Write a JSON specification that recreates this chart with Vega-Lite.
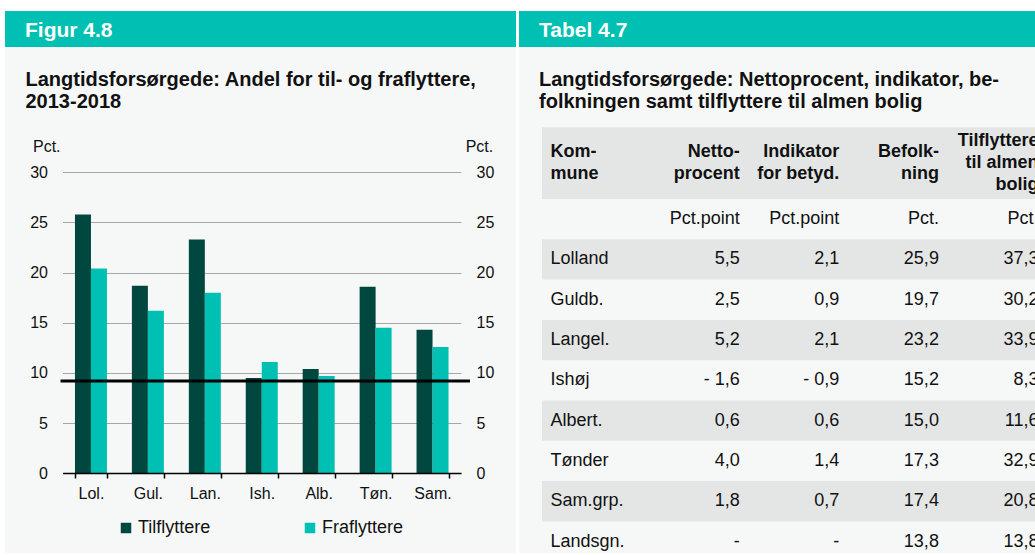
{
  "$schema": "https://vega.github.io/schema/vega-lite/v6.json",
  "background": "white",
  "padding": {"left": 5, "top": 11, "right": 0, "bottom": 2},
  "spacing": 3,
  "config": {
    "view": {"stroke": null},
    "font": "Liberation Sans",
    "locale": {"number": {"decimal": ",", "thousands": ".", "grouping": [3], "currency": ["", " kr."], "minus": "- "}}
  },
  "hconcat": [
    {
      "spacing": 0,
      "resolve": {"legend": {"color": "independent"}},
      "vconcat": [
        {
          "width": 511,
          "height": 36,
          "view": {"fill": "#00bfb3", "stroke": null},
          "data": {"values": [{"label": "Figur 4.8"}]},
          "mark": {"type": "point", "opacity": 0},
          "encoding": {
            "x": {"field": "label", "type": "nominal", "axis": {"orient": "top", "labels": false, "ticks": false, "domain": false, "grid": false, "title": "Figur 4.8", "titleX": 19.5, "titleY": 25, "titleAlign": "left", "titleAnchor": "start", "titleBaseline": "alphabetic", "titleFontSize": 21, "titleFontWeight": "bold", "titleColor": "white", "titleFont": "Liberation Sans"}}
          }
        },
        {
          "width": 511,
          "height": 506,
          "view": {"fill": "#f6f8f8", "stroke": null},
          "resolve": {"scale": {"x": "independent"}, "axis": {"y": "independent"}},
          "layer": [
            {
              "data": {"values": [
                {"kommune": "Lol.", "type": "Tilflyttere", "value": 25.8},
                {"kommune": "Lol.", "type": "Fraflyttere", "value": 20.4},
                {"kommune": "Gul.", "type": "Tilflyttere", "value": 18.7},
                {"kommune": "Gul.", "type": "Fraflyttere", "value": 16.2},
                {"kommune": "Lan.", "type": "Tilflyttere", "value": 23.3},
                {"kommune": "Lan.", "type": "Fraflyttere", "value": 18.0},
                {"kommune": "Ish.", "type": "Tilflyttere", "value": 9.5},
                {"kommune": "Ish.", "type": "Fraflyttere", "value": 11.1},
                {"kommune": "Alb.", "type": "Tilflyttere", "value": 10.4},
                {"kommune": "Alb.", "type": "Fraflyttere", "value": 9.7},
                {"kommune": "Tøn.", "type": "Tilflyttere", "value": 18.6},
                {"kommune": "Tøn.", "type": "Fraflyttere", "value": 14.5},
                {"kommune": "Sam.", "type": "Tilflyttere", "value": 14.3},
                {"kommune": "Sam.", "type": "Fraflyttere", "value": 12.6}
              ]},
              "mark": {"type": "bar"},
              "encoding": {
                "x": {
                  "field": "kommune", "type": "nominal",
                  "scale": {"domain": ["Lol.", "Gul.", "Lan.", "Ish.", "Alb.", "Tøn.", "Sam."], "range": [57.5, 456], "paddingInner": 0.438, "paddingOuter": 0.219},
                  "axis": {"orient": "bottom", "offset": -80, "labelAngle": 0, "domainColor": "black", "domainWidth": 1.5, "tickColor": "black", "tickWidth": 1.5, "tickSize": 5, "tickBand": "extent", "labelFontSize": 16, "labelPadding": 7, "labelColor": "#111111", "labelFont": "Liberation Sans", "grid": false, "zindex": 1,
                    "title": ["Langtidsforsørgede: Andel for til- og fraflyttere,", "2013-2018"], "titleX": 20, "titleY": -404, "titleAlign": "left", "titleAnchor": "start", "titleBaseline": "top", "titleAngle": 0, "titleFontSize": 20, "titleFontWeight": "bold", "titleLineHeight": 22.5, "titleColor": "#111111", "titleFont": "Liberation Sans"}
                },
                "y": {
                  "field": "value", "type": "quantitative",
                  "scale": {"domain": [0, 30], "range": [426.3, 125.3], "nice": false, "zero": true},
                  "axis": {"orient": "left", "offset": -57.5, "values": [0, 5, 10, 15, 20, 25, 30], "grid": true, "gridColor": "#a6a6a6", "gridWidth": 1, "domain": false, "ticks": false, "tickSize": 0, "labelFontSize": 16, "labelColor": "#111111", "labelFont": "Liberation Sans", "labelPadding": 15, "title": "Pct.", "titleAngle": 0, "titleAlign": "left", "titleBaseline": "alphabetic", "titleX": -30, "titleY": 104, "titleFontSize": 16, "titleFontWeight": "normal", "titleColor": "#111111", "titleFont": "Liberation Sans"}
                },
                "xOffset": {"field": "type", "type": "nominal", "scale": {"domain": ["Tilflyttere", "Fraflyttere"], "paddingInner": 0, "paddingOuter": 0}},
                "color": {
                  "field": "type", "type": "nominal",
                  "scale": {"domain": ["Tilflyttere", "Fraflyttere"], "range": ["#00473f", "#00bfb3"]},
                  "legend": {"orient": "none", "legendX": 112, "legendY": 472, "direction": "horizontal", "title": null, "symbolType": "square", "symbolSize": 110, "symbolStrokeWidth": 0, "labelFontSize": 18, "labelColor": "#111111", "labelFont": "Liberation Sans", "labelOffset": 3, "columnPadding": 90, "padding": 0}
                }
              }
            },
            {
              "data": {"values": [{"niveau": 9.2}]},
              "mark": {"type": "rule", "color": "black", "strokeWidth": 3},
              "encoding": {
                "y": {
                  "field": "niveau", "type": "quantitative",
                  "axis": {"orient": "right", "offset": -55, "values": [0, 5, 10, 15, 20, 25, 30], "grid": false, "domain": false, "ticks": false, "tickSize": 0, "labelFontSize": 16, "labelColor": "#111111", "labelFont": "Liberation Sans", "labelPadding": 15, "title": "Pct.", "titleAngle": 0, "titleAlign": "right", "titleBaseline": "alphabetic", "titleX": 31.7, "titleY": 104, "titleFontSize": 16, "titleFontWeight": "normal", "titleColor": "#111111", "titleFont": "Liberation Sans"}
                },
                "x": {"datum": 0, "type": "quantitative", "scale": {"domain": [0, 1], "range": [55.5, 465]}, "axis": null},
                "x2": {"datum": 1}
              }
            }
          ]
        }
      ]
    },
    {
      "spacing": 0,
      "vconcat": [
        {
          "width": 516,
          "height": 36,
          "view": {"fill": "#00bfb3", "stroke": null},
          "data": {"values": [{"label": "Tabel 4.7"}]},
          "mark": {"type": "point", "opacity": 0},
          "encoding": {
            "x": {"field": "label", "type": "nominal", "axis": {"orient": "top", "labels": false, "ticks": false, "domain": false, "grid": false, "title": "Tabel 4.7", "titleX": 19.5, "titleY": 25, "titleAlign": "left", "titleAnchor": "start", "titleBaseline": "alphabetic", "titleFontSize": 21, "titleFontWeight": "bold", "titleColor": "white", "titleFont": "Liberation Sans"}}
          }
        },
        {
          "width": 516,
          "height": 506,
          "view": {"fill": "#f6f8f8", "stroke": null},
          "resolve": {"scale": {"y": "independent"}},
          "layer": [
            {
              "data": {"values": [
                {"col": "Kommune", "label": "Kom-\nmune"},
                {"col": "Nettoprocent", "label": "Netto-\nprocent"},
                {"col": "Indikator", "label": "Indikator\nfor betyd."},
                {"col": "Befolkning", "label": "Befolk-\nning"},
                {"col": "Tilflyttere", "label": "Tilflyttere\ntil almen\nbolig"}
              ]},
              "layer": [
                {
                  "transform": [{"filter": "datum.col === 'Kommune'"}],
                  "mark": {"type": "rect", "color": "#e4e6e6", "xOffset": -98.1, "clip": true},
                  "encoding": {
                    "x": {"datum": "Kommune", "type": "nominal", "scale": {"type": "point", "domain": ["Kommune", "Nettoprocent", "Indikator", "Befolkning", "Tilflyttere"], "range": [121.1, 519.5], "padding": 0},
                      "axis": {"orient": "top", "labels": false, "ticks": false, "domain": false, "grid": false, "title": ["Langtidsforsørgede: Nettoprocent, indikator, be-", "folkningen samt tilflyttere til almen bolig"], "titleX": 19.5, "titleY": 22, "titleAlign": "left", "titleAnchor": "start", "titleBaseline": "top", "titleAngle": 0, "titleFontSize": 20, "titleFontWeight": "bold", "titleLineHeight": 22.5, "titleColor": "#111111", "titleFont": "Liberation Sans"}},
                    "x2": {"datum": "Tilflyttere"},
                    "y": {"datum": "header", "type": "nominal", "scale": {"domain": ["header"], "range": [80.3, 152], "paddingInner": 0, "paddingOuter": 0}, "axis": null}
                  }
                },
                {
                  "transform": [{"filter": "datum.col === 'Kommune'"}],
                  "mark": {"type": "text", "align": "left", "baseline": "middle", "dx": -89.6, "dy": -10.85, "fontSize": 18, "fontWeight": "bold", "lineBreak": "\n", "lineHeight": 21.7, "color": "#111111", "font": "Liberation Sans"},
                  "encoding": {
                    "x": {"field": "col", "type": "nominal"},
                    "y": {"datum": "header", "type": "nominal"},
                    "text": {"field": "label"}
                  }
                },
                {
                  "transform": [{"filter": {"field": "col", "oneOf": ["Nettoprocent", "Indikator", "Befolkning"]}}],
                  "mark": {"type": "text", "align": "right", "baseline": "middle", "dy": -10.85, "fontSize": 18, "fontWeight": "bold", "lineBreak": "\n", "lineHeight": 21.7, "color": "#111111", "font": "Liberation Sans"},
                  "encoding": {
                    "x": {"field": "col", "type": "nominal"},
                    "y": {"datum": "header", "type": "nominal"},
                    "text": {"field": "label"}
                  }
                },
                {
                  "transform": [{"filter": "datum.col === 'Tilflyttere'"}],
                  "mark": {"type": "text", "align": "right", "baseline": "middle", "dy": -21.7, "fontSize": 18, "fontWeight": "bold", "lineBreak": "\n", "lineHeight": 21.7, "color": "#111111", "font": "Liberation Sans", "clip": true},
                  "encoding": {
                    "x": {"field": "col", "type": "nominal"},
                    "y": {"datum": "header", "type": "nominal"},
                    "text": {"field": "label"}
                  }
                }
              ]
            },
            {
              "data": {"values": [
                {"Kommune": "Lolland", "Nettoprocent": 5.5, "Indikator": 2.1, "Befolkning": 25.9, "Tilflyttere": 37.3},
                {"Kommune": "Guldb.", "Nettoprocent": 2.5, "Indikator": 0.9, "Befolkning": 19.7, "Tilflyttere": 30.2},
                {"Kommune": "Langel.", "Nettoprocent": 5.2, "Indikator": 2.1, "Befolkning": 23.2, "Tilflyttere": 33.9},
                {"Kommune": "Ishøj", "Nettoprocent": -1.6, "Indikator": -0.9, "Befolkning": 15.2, "Tilflyttere": 8.3},
                {"Kommune": "Albert.", "Nettoprocent": 0.6, "Indikator": 0.6, "Befolkning": 15.0, "Tilflyttere": 11.6},
                {"Kommune": "Tønder", "Nettoprocent": 4.0, "Indikator": 1.4, "Befolkning": 17.3, "Tilflyttere": 32.9},
                {"Kommune": "Sam.grp.", "Nettoprocent": 1.8, "Indikator": 0.7, "Befolkning": 17.4, "Tilflyttere": 20.8},
                {"Kommune": "Landsgn.", "Nettoprocent": null, "Indikator": null, "Befolkning": 13.8, "Tilflyttere": 13.8}
              ]},
              "layer": [
                {
                  "transform": [{"filter": {"field": "Kommune", "oneOf": ["Lolland", "Langel.", "Albert.", "Sam.grp."]}}],
                  "mark": {"type": "rect", "color": "#e4e6e6", "xOffset": -98.1, "clip": true},
                  "encoding": {
                    "x": {"datum": "Kommune", "type": "nominal"},
                    "x2": {"datum": "Tilflyttere"},
                    "y": {"field": "Kommune", "type": "nominal", "scale": {"domain": ["units", "Lolland", "Guldb.", "Langel.", "Ishøj", "Albert.", "Tønder", "Sam.grp.", "Landsgn."], "range": [152, 514.7], "paddingInner": 0, "paddingOuter": 0}, "axis": null}
                  }
                },
                {
                  "mark": {"type": "text", "align": "left", "baseline": "middle", "dx": -89.6, "fontSize": 18, "color": "#111111", "font": "Liberation Sans"},
                  "encoding": {
                    "x": {"datum": "Kommune", "type": "nominal"},
                    "y": {"field": "Kommune", "type": "nominal"},
                    "text": {"field": "Kommune"}
                  }
                },
                {
                  "transform": [{"fold": ["Nettoprocent", "Indikator", "Befolkning", "Tilflyttere"], "as": ["col", "value"]}],
                  "mark": {"type": "text", "align": "right", "baseline": "middle", "fontSize": 18, "color": "#111111", "font": "Liberation Sans", "clip": true},
                  "encoding": {
                    "x": {"field": "col", "type": "nominal"},
                    "y": {"field": "Kommune", "type": "nominal"},
                    "text": {"condition": {"test": "datum.value === null", "value": "-"}, "field": "value", "type": "quantitative", "format": ".1f"}
                  }
                },
                {
                  "data": {"values": [
                    {"col": "Nettoprocent", "unit": "Pct.point"},
                    {"col": "Indikator", "unit": "Pct.point"},
                    {"col": "Befolkning", "unit": "Pct."},
                    {"col": "Tilflyttere", "unit": "Pct."}
                  ]},
                  "mark": {"type": "text", "align": "right", "baseline": "middle", "fontSize": 18, "color": "#111111", "font": "Liberation Sans", "clip": true},
                  "encoding": {
                    "x": {"field": "col", "type": "nominal"},
                    "y": {"datum": "units", "type": "nominal"},
                    "text": {"field": "unit"}
                  }
                }
              ]
            }
          ]
        }
      ]
    }
  ]
}
